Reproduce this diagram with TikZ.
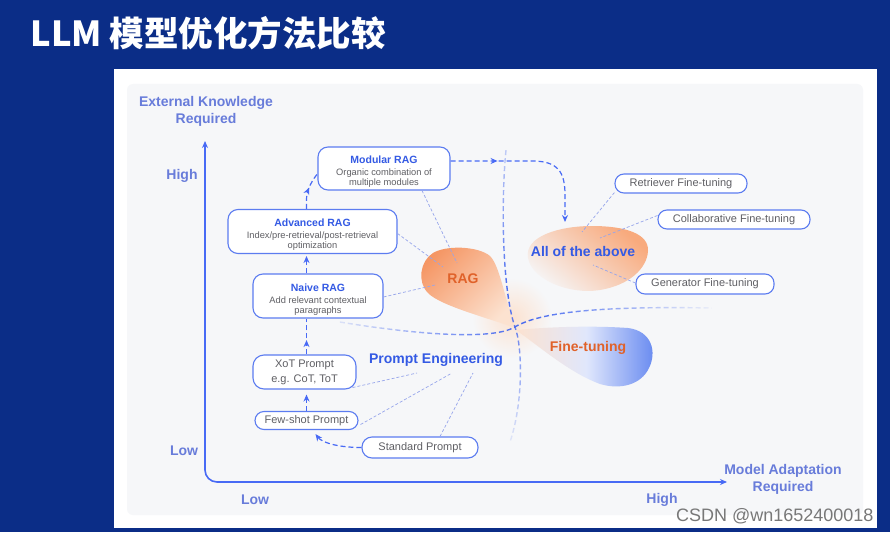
\documentclass[tikz,border=0pt]{standalone}
\usepackage{fontspec}
\setmainfont{Liberation Sans}
\newfontfamily\cjkfont{Noto Sans CJK SC}
\newfontfamily\wmfont{Liberation Sans}
\usetikzlibrary{arrows.meta,decorations.markings,fadings}

\definecolor{bgblue}{RGB}{11,45,135}
\definecolor{panelgray}{RGB}{246,247,249}
\definecolor{axisblue}{RGB}{72,106,245}
\definecolor{axislabel}{RGB}{104,124,218}
\definecolor{nodeborder}{RGB}{92,124,240}
\definecolor{titleblue}{RGB}{52,90,228}
\definecolor{graytext}{RGB}{95,95,100}
\definecolor{ragorange}{RGB}{224,98,42}
\definecolor{bloborange}{RGB}{245,150,100}
\definecolor{allorange}{RGB}{248,170,125}
\definecolor{peach}{RGB}{252,226,208}
\definecolor{ftblue}{RGB}{100,135,240}
\definecolor{linkblue}{RGB}{150,165,235}
\definecolor{divblue}{RGB}{70,105,240}
\definecolor{wmgray}{RGB}{120,120,120}

\newcommand\nodetitle{\fontsize{10.5}{10}\selectfont\bfseries\color{titleblue}}
\newcommand\nodesub{\fontsize{9.3}{10}\selectfont\color{graytext}}
\newcommand\pilltext{\fontsize{11}{13}\selectfont\color{graytext}}

\tikzfading[name=fadeH, left color=transparent!85, right color=transparent!95, middle color=transparent!0]
\tikzfading[name=fadeV, top color=transparent!70, bottom color=transparent!90, middle color=transparent!0]

\tikzset{
  box/.style={draw=nodeborder, line width=1.1pt, fill=white, rounded corners=10pt, align=center, inner sep=0pt, font=\nodesub, text height=36pt},
  pill/.style={draw=nodeborder, line width=1.1pt, fill=white, rounded corners=9pt, align=center, inner sep=0pt, font=\pilltext},
  axislab/.style={font=\fontsize{14}{17}\selectfont\bfseries, text=axislabel, align=center},
  region/.style={font=\fontsize{14}{16}\selectfont\bfseries},
  arrowdash/.style={draw=axisblue, line width=1.2pt, dash pattern=on 5pt off 3pt},
  tipend/.style={-{Stealth[length=7pt,width=6pt]}},
  midarrow/.style={postaction={decorate}, decoration={markings, mark=at position #1 with {\arrow{Stealth[length=7pt,width=6pt]}}}},
  linkline/.style={draw=linkblue, line width=0.7pt, dash pattern=on 3pt off 2pt},
  divider/.style={draw=divblue, line width=1.4pt, dash pattern=on 5pt off 3pt}
}

\begin{document}
\begin{tikzpicture}[x=1pt,y=-1pt]
\useasboundingbox (0,0) rectangle (890,532);
% backgrounds
\fill[bgblue] (0,0) rectangle (890,532);
\fill[white] (114,69) rectangle (877,528);
\fill[panelgray, rounded corners=6pt] (127,84) rectangle (863,515);

% title
\node[anchor=west, text=white, font=\cjkfont\bfseries\fontsize{34.5}{40}\selectfont] (title) at (27,33) {LLM 模型优化方法比较};

% glow around crossing
\shade[inner color=peach, outer color=panelgray] (512,318) circle (40);

% RAG blob
\shade[top color=bloborange, bottom color=peach, shading angle=45]
  (515,328) .. controls (495,320) and (440,306) .. (428,293)
  .. controls (417,282) and (420,261) .. (433,253)
  .. controls (446,245) and (478,246) .. (490,256)
  .. controls (500,266) and (505,300) .. cycle;

% All of the above blob
\shade[top color=allorange, bottom color=panelgray, shading angle=-40]
  (528,258) .. controls (524,236) and (560,226) .. (592,226)
  .. controls (626,226) and (649,234) .. (648,251)
  .. controls (647,268) and (630,285) .. (600,290)
  .. controls (570,295) and (532,280) .. cycle;

% Fine-tuning blob
\shade[left color=peach, right color=ftblue, middle color=white!80!ftblue]
  (516,330) .. controls (560,326) and (600,326) .. (628,328)
  .. controls (652,331) and (657,352) .. (649,368)
  .. controls (641,385) and (620,390) .. (600,384)
  .. controls (570,373) and (540,347) .. cycle;

% dividers
\draw[divider, path fading=fadeV] (506,150) .. controls (501,200) and (502,290) .. (515,327)
  .. controls (522,345) and (524,400) .. (510,442);
\draw[divider, path fading=fadeH] (340,322) .. controls (400,332) and (490,342) .. (515,327)
  .. controls (540,312) and (600,306) .. (712,308);

% nodes
\node[box, minimum width=132pt, minimum height=43pt] (modular) at (384,168.5)
  {{\nodetitle Modular RAG}\\[2pt]Organic combination of\\multiple modules};
\node[box, minimum width=169pt, minimum height=44pt] (advanced) at (312.5,231.5)
  {{\nodetitle Advanced RAG}\\[2pt]Index/pre-retrieval/post-retrieval\\optimization};
\node[box, minimum width=130pt, minimum height=44pt] (naive) at (318,296)
  {{\nodetitle Naive RAG}\\[2pt]Add relevant contextual\\paragraphs};
\node[pill, rounded corners=11pt, minimum width=103pt, minimum height=34pt, font=\fontsize{11}{15}\selectfont\color{graytext}] (xot) at (304.5,372)
  {XoT Prompt\\e.g. CoT, ToT};
\node[pill, minimum width=103pt, minimum height=18pt] (fewshot) at (306.5,420.5) {Few-shot Prompt};
\node[pill, rounded corners=10pt, minimum width=116pt, minimum height=21pt] (standard) at (420,447.5) {Standard Prompt};
\node[pill, minimum width=132pt, minimum height=19pt] (retriever) at (681,183.5) {Retriever Fine-tuning};
\node[pill, minimum width=152pt, minimum height=19pt] (collab) at (734,219.5) {Collaborative Fine-tuning};
\node[pill, minimum width=138pt, minimum height=20pt] (generator) at (705,284) {Generator Fine-tuning};

% region labels
\node[region, text=ragorange] (raglab) at (463,279) {RAG};
\node[region, text=titleblue] (alllab) at (583,251) {All of the above};
\node[region, text=ragorange] (ftlab) at (588,348) {Fine-tuning};
\node[region, text=titleblue] (pelab) at (436,360) {Prompt Engineering};

% link end points
\coordinate (ragA) at (457,263);
\coordinate (ragB) at (443,267);
\coordinate (ragC) at (435,285);
\coordinate (allA) at (582,232);
\coordinate (allB) at (600,238);
\coordinate (allC) at (593,265);
\coordinate (peA) at (417,373);
\coordinate (peB) at (452,373);
\coordinate (peC) at (473,373);

% thin links
\draw[linkline] ([xshift=38pt]modular.south) -- (ragA);
\draw[linkline] ([yshift=-2pt]advanced.east) -- (ragB);
\draw[linkline] ([yshift=-1pt]naive.east) -- (ragC);
\draw[linkline] ([yshift=-9pt]retriever.west) -- (allA);
\draw[linkline] ([yshift=4pt]collab.west) -- (allB);
\draw[linkline] ([yshift=1pt]generator.west) -- (allC);
\draw[linkline] ([xshift=-4pt,yshift=2pt]xot.south east) -- (peA);
\draw[linkline] ([xshift=2pt,yshift=-4pt]fewshot.east) -- (peB);
\draw[linkline] ([xshift=20pt]standard.north) -- (peC);

% dashed arrows
\draw[arrowdash, tipend] (fewshot.north) -- ([xshift=2pt,yshift=-5pt]xot.south);
\draw[arrowdash, midarrow=0.4] ([xshift=2pt]xot.north) -- ([xshift=-11.5pt]naive.south);
\draw[arrowdash, tipend] ([xshift=-11.5pt]naive.north) -- ([xshift=-6pt,yshift=-2pt]advanced.south);
\draw[arrowdash, midarrow=0.55] ([xshift=-6pt]advanced.north) -- ++(0,-10)
  .. controls ++(0,-10) and ++(-5,6) .. ([xshift=1pt,yshift=18pt]modular.south west);
\draw[arrowdash, tipend] (standard.west) .. controls ++(-25,0) and ++(6,8) .. ([xshift=9pt,yshift=-4pt]fewshot.south);
\coordinate (alltop) at (565,222);
\draw[arrowdash, tipend, midarrow=47pt] ([yshift=7.5pt]modular.east) -- (532,161)
  .. controls (558,161) and (565,172) .. (565,195) -- (alltop);

% axes
\draw[axisblue, line width=1.6pt, {Stealth[length=7pt,width=6pt]}-{Stealth[length=7pt,width=6pt]}, rounded corners=12pt]
  (205,141) -- (205,482) -- (727,482);

% axis labels
\node[axislab] (ylab) at (206,111) {External Knowledge\\Required};
\node[axislab] (yhigh) at (182,176) {High};
\node[axislab] (ylow) at (184,451) {Low};
\node[axislab] (xlow) at (255,500) {Low};
\node[axislab] (xhigh) at (662,500) {High};
\node[axislab] (xlab) at (783,479) {Model Adaptation\\Required};

% watermark
\node[anchor=east, text=wmgray, font=\wmfont\fontsize{18}{20}\selectfont] (wm) at (877,516) {CSDN @wn1652400018};
\end{tikzpicture}
\end{document}
